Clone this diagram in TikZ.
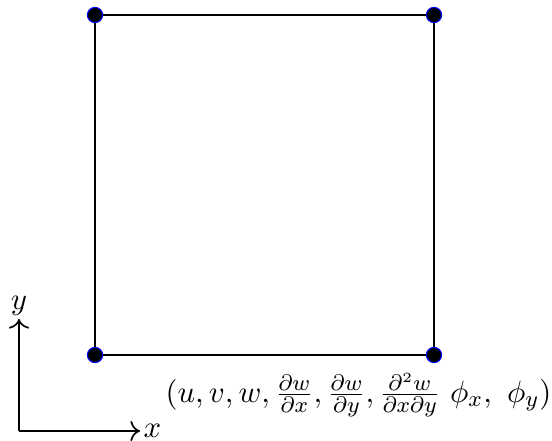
\documentclass[tikz,border=0pt]{standalone}
\usepackage{amsmath,amssymb}
\usepackage{tikz}
\usetikzlibrary{positioning,arrows.meta}
\usepackage{xcolor}

\begin{document}
\begin{tikzpicture}[>={To[length=1.2mm]},
  corner/.style={circle,draw=blue,fill=black,inner sep=0pt,minimum size=1.9mm}]
\useasboundingbox (0,0) rectangle (6.9,5.5);
\node[corner] (bl) at (1.1875,1.0625) {};
\node[corner] (br) at (5.425,1.0625) {};
\node[corner] (tr) at (5.425,5.3125) {};
\node[corner] (tl) at (1.1875,5.3125) {};
\draw[thick] (bl) -- (br) -- (tr) -- (tl) -- (bl);
\node[font=\fontsize{11}{13}\selectfont,inner sep=0pt,anchor=east] (lbl) at (6.9,0.56) {$(u,v,w,\frac{\partial w}{\partial x},\frac{\partial w}{\partial y},\frac{\partial^2 w}{\partial x\partial y}~\phi_x,~\phi_y)$};
% axes
\coordinate (o) at (0.2375,0.1125);
\coordinate (ytip) at (0.2375,1.5125);
\coordinate (xtip) at (1.75,0.1125);
\draw[semithick,->] (o) -- (ytip) node[above,inner sep=1pt,font=\fontsize{11}{13}\selectfont] (ylbl) {$y$};
\draw[semithick,->] (o) -- (xtip) node[right,inner sep=1pt,font=\fontsize{11}{13}\selectfont] (xlbl) {$x$};
\end{tikzpicture}
\end{document}
